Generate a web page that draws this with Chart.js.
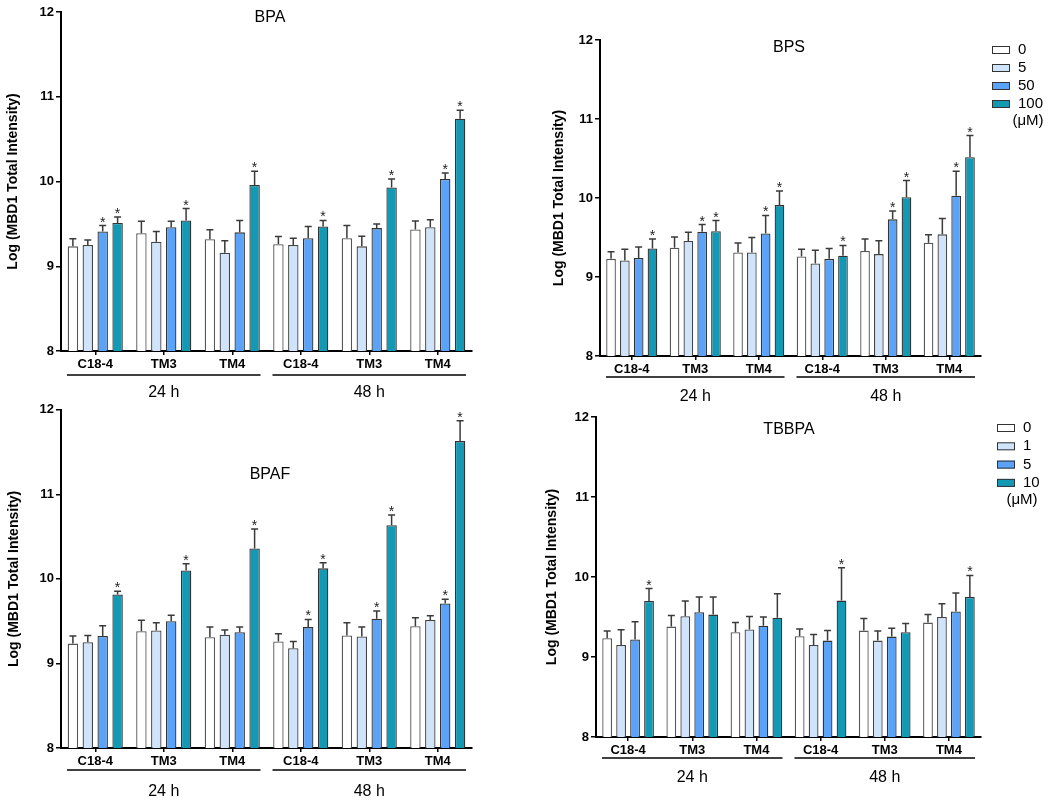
<!DOCTYPE html>
<html>
<head>
<meta charset="utf-8">
<script src="https://cdn.jsdelivr.net/npm/chart.js@4.4.1/dist/chart.umd.min.js"></script>
<style>
  body { margin: 0; background: #fff; width: 1050px; height: 804px; position: relative; overflow: hidden; }
  canvas { position: absolute; }
</style>
</head>
<body>
<canvas id="bpaChart" width="525" height="410" style="left:0;top:0"></canvas>
<canvas id="bpsChart" width="525" height="410" style="left:525px;top:0"></canvas>
<canvas id="bpafChart" width="525" height="404" style="left:0;top:400px"></canvas>
<canvas id="tbbpaChart" width="525" height="404" style="left:525px;top:400px"></canvas>
<script>
// categories and labels
const categories = ['C18-4', 'TM3', 'TM4', 'C18-4', 'TM3', 'TM4'];
const timeGroups = ['24 h', '48 h'];
const bisDoses = ['0', '5', '50', '100'];
const tbbpaDoses = ['0', '1', '5', '10'];
const doseUnit = '(\u03bcM)';
const yTitle = 'Log (MBD1 Total Intensity)';
const yTicks = [8, 9, 10, 11, 12];

// BPA: one row per dose, one column per category
const bpaMean = [
    [9.235, 9.39, 9.32, 9.26, 9.33, 9.435],
    [9.25, 9.29, 9.16, 9.25, 9.235, 9.46],
    [9.41, 9.46, 9.40, 9.33, 9.45, 10.03],
    [9.51, 9.54, 9.96, 9.47, 9.93, 10.74]
];
const bpaErr = [
    [0.09, 0.14, 0.11, 0.09, 0.15, 0.10],
    [0.06, 0.12, 0.14, 0.08, 0.12, 0.09],
    [0.07, 0.07, 0.14, 0.14, 0.05, 0.07],
    [0.07, 0.14, 0.16, 0.07, 0.10, 0.10]
];
const bpaStar = [
    [0, 0, 0, 0, 0, 0],
    [0, 0, 0, 0, 0, 0],
    [1, 0, 0, 0, 0, 1],
    [1, 1, 1, 1, 1, 1]
];

// BPS
const bpsMean = [
    [9.23, 9.37, 9.31, 9.26, 9.33, 9.435],
    [9.21, 9.456, 9.31, 9.17, 9.29, 9.54],
    [9.24, 9.574, 9.55, 9.23, 9.73, 10.03],
    [9.36, 9.58, 9.91, 9.27, 10.01, 10.515]
];
const bpsErr = [
    [0.09, 0.135, 0.12, 0.09, 0.15, 0.10],
    [0.14, 0.11, 0.19, 0.17, 0.17, 0.20],
    [0.14, 0.09, 0.23, 0.13, 0.105, 0.31],
    [0.12, 0.135, 0.18, 0.13, 0.21, 0.275]
];
const bpsStar = [
    [0, 0, 0, 0, 0, 0],
    [0, 0, 0, 0, 0, 0],
    [0, 1, 1, 0, 1, 1],
    [1, 1, 1, 1, 1, 1]
];

// BPAF
const bpafMean = [
    [9.235, 9.38, 9.31, 9.26, 9.33, 9.44],
    [9.25, 9.39, 9.34, 9.18, 9.32, 9.515],
    [9.325, 9.50, 9.37, 9.43, 9.53, 9.71],
    [9.815, 10.10, 10.36, 10.125, 10.635, 11.63]
];
const bpafErr = [
    [0.09, 0.13, 0.12, 0.09, 0.15, 0.10],
    [0.08, 0.09, 0.055, 0.08, 0.11, 0.05],
    [0.12, 0.07, 0.06, 0.09, 0.09, 0.05],
    [0.04, 0.08, 0.23, 0.065, 0.12, 0.24]
];
const bpafStar = [
    [0, 0, 0, 0, 0, 0],
    [0, 0, 0, 0, 0, 0],
    [0, 0, 0, 1, 1, 1],
    [1, 1, 1, 1, 1, 1]
];

// TBBPA
const tbbpaMean = [
    [9.234, 9.38, 9.31, 9.26, 9.33, 9.43],
    [9.15, 9.51, 9.345, 9.15, 9.205, 9.50],
    [9.22, 9.56, 9.39, 9.205, 9.255, 9.57],
    [9.70, 9.53, 9.49, 9.705, 9.31, 9.75]
];
const tbbpaErr = [
    [0.09, 0.14, 0.12, 0.09, 0.15, 0.10],
    [0.19, 0.19, 0.16, 0.13, 0.12, 0.165],
    [0.22, 0.19, 0.11, 0.125, 0.105, 0.23],
    [0.155, 0.22, 0.30, 0.41, 0.11, 0.27]
];
const tbbpaStar = [
    [0, 0, 0, 0, 0, 0],
    [0, 0, 0, 0, 0, 0],
    [0, 0, 0, 0, 0, 0],
    [1, 0, 0, 1, 0, 1]
];

const barColors = ['#ffffff', '#cfe3fa', '#5ba3f8', '#1499b5'];
const barBorders = ['#555555', '#444444', '#333333', '#333333'];
const FONT = "'Liberation Sans', Arial, sans-serif";

Chart.defaults.font.family = FONT;
Chart.defaults.color = '#000';

// draws error bars, stars, time-group lines, title and legend
function extrasPlugin(p) {
    return {
        id: 'extras',
        afterDatasetsDraw(chart) {
            const ctx = chart.ctx;
            const yScale = chart.scales.y;
            ctx.save();
            p.mean.forEach((vals, di) => {
                const meta = chart.getDatasetMeta(di);
                meta.data.forEach((bar, i) => {
                    const top = yScale.getPixelForValue(vals[i] + p.err[di][i]);
                    ctx.strokeStyle = '#3a3a3a';
                    ctx.lineWidth = 1.5;
                    ctx.beginPath();
                    ctx.moveTo(bar.x, bar.y);
                    ctx.lineTo(bar.x, top);
                    ctx.moveTo(bar.x - 3.5, top);
                    ctx.lineTo(bar.x + 3.5, top);
                    ctx.stroke();
                    if (p.star[di][i]) {
                        ctx.fillStyle = '#222';
                        ctx.font = '14px ' + FONT;
                        ctx.textAlign = 'center';
                        ctx.textBaseline = 'alphabetic';
                        ctx.fillText('*', bar.x, top + 1);
                    }
                });
            });
            ctx.restore();
        },
        afterDraw(chart) {
            const ctx = chart.ctx;
            const xScale = chart.scales.x;
            const area = chart.chartArea;
            const w = (xScale.right - xScale.left) / categories.length;
            ctx.save();
            // 24 h / 48 h group lines
            timeGroups.forEach((label, g) => {
                const left = xScale.left + g * 3 * w + 6;
                const right = xScale.left + (g + 1) * 3 * w - 6;
                const ly = area.bottom + p.lineGap;
                ctx.strokeStyle = '#000';
                ctx.lineWidth = 1.5;
                ctx.beginPath();
                ctx.moveTo(left, ly);
                ctx.lineTo(right, ly);
                ctx.stroke();
                ctx.fillStyle = '#000';
                ctx.font = '16px ' + FONT;
                ctx.textAlign = 'center';
                ctx.textBaseline = 'middle';
                ctx.fillText(label, (left + right) / 2, area.bottom + p.labelGap);
            });
            // title
            ctx.font = '16px ' + FONT;
            ctx.textAlign = 'center';
            ctx.textBaseline = 'middle';
            ctx.fillText(p.title, p.titlePos[0], p.titlePos[1]);
            // legend
            if (p.legend) {
                const lg = p.legend;
                p.doses.forEach((d, i) => {
                    const ry = lg.y + i * lg.step;
                    ctx.fillStyle = barColors[i];
                    ctx.fillRect(lg.x, ry - 4, 18, 8);
                    ctx.strokeStyle = '#333';
                    ctx.lineWidth = 1;
                    ctx.strokeRect(lg.x + 0.5, ry - 3.5, 17, 7);
                    ctx.fillStyle = '#000';
                    ctx.font = '15px ' + FONT;
                    ctx.textAlign = 'left';
                    ctx.textBaseline = 'middle';
                    ctx.fillText(d, lg.x + 26, ry);
                });
                ctx.textAlign = 'center';
                ctx.fillText(doseUnit, lg.unitX, lg.y + p.doses.length * lg.step - 1);
            }
            ctx.restore();
        }
    };
}

function makePanel(id, p) {
    const canvas = document.getElementById(id);
    const W = canvas.width, H = canvas.height;
    const datasets = p.mean.map((vals, i) => ({
        label: p.doses[i],
        data: vals,
        backgroundColor: barColors[i],
        borderColor: barBorders[i],
        borderWidth: 1.3,
        categoryPercentage: 0.87,
        barPercentage: 0.7
    }));
    new Chart(canvas.getContext('2d'), {
        type: 'bar',
        data: { labels: categories, datasets: datasets },
        options: {
            responsive: false,
            animation: false,
            devicePixelRatio: 1,
            layout: { padding: { left: 0, top: p.area.top, right: W - p.area.right, bottom: 0 } },
            plugins: { legend: { display: false }, tooltip: { enabled: false } },
            scales: {
                x: {
                    grid: { offset: false, drawOnChartArea: false, tickLength: 4, color: '#000', lineWidth: 1.5 },
                    border: { display: true, color: '#000', width: 2 },
                    ticks: { font: { size: 13, weight: 'bold' }, color: '#000', padding: 2, autoSkip: false, maxRotation: 0 },
                    afterFit: s => { s.height = H - p.area.bottom; }
                },
                y: {
                    min: 8,
                    max: 12,
                    afterBuildTicks: s => { s.ticks = yTicks.map(v => ({ value: v })); },
                    grid: { drawOnChartArea: false, tickLength: 5, color: '#000', lineWidth: 1.5 },
                    border: { display: true, color: '#000', width: 2 },
                    ticks: { font: { size: 13, weight: 'bold' }, color: '#000', padding: 2 },
                    title: { display: true, text: yTitle, font: { size: 14, weight: 'bold' }, color: '#000', padding: { top: p.yTitlePad, bottom: 0 } },
                    afterFit: s => { s.width = p.area.left; }
                }
            }
        },
        plugins: [extrasPlugin(p)]
    });
}

makePanel('bpaChart', {
    title: 'BPA', titlePos: [270, 18], doses: bisDoses,
    mean: bpaMean, err: bpaErr, star: bpaStar,
    area: { left: 61, right: 472, top: 12, bottom: 351 },
    yTitlePad: 5, lineGap: 24, labelGap: 42
});
makePanel('bpsChart', {
    title: 'BPS', titlePos: [264, 48], doses: bisDoses,
    mean: bpsMean, err: bpsErr, star: bpsStar,
    area: { left: 75, right: 456, top: 40, bottom: 356 },
    yTitlePad: 26, lineGap: 21, labelGap: 41,
    legend: { x: 467, y: 50, step: 18, unitX: 503 }
});
makePanel('bpafChart', {
    title: 'BPAF', titlePos: [270, 75], doses: bisDoses,
    mean: bpafMean, err: bpafErr, star: bpafStar,
    area: { left: 61, right: 472, top: 7, bottom: 348 },
    yTitlePad: 6, lineGap: 22, labelGap: 44
});
makePanel('tbbpaChart', {
    title: 'TBBPA', titlePos: [264, 30], doses: tbbpaDoses,
    mean: tbbpaMean, err: tbbpaErr, star: tbbpaStar,
    area: { left: 71, right: 456, top: 17, bottom: 337 },
    yTitlePad: 19, lineGap: 21, labelGap: 41,
    legend: { x: 472, y: 28, step: 18.3, unitX: 497 }
});
</script>
</body>
</html>
